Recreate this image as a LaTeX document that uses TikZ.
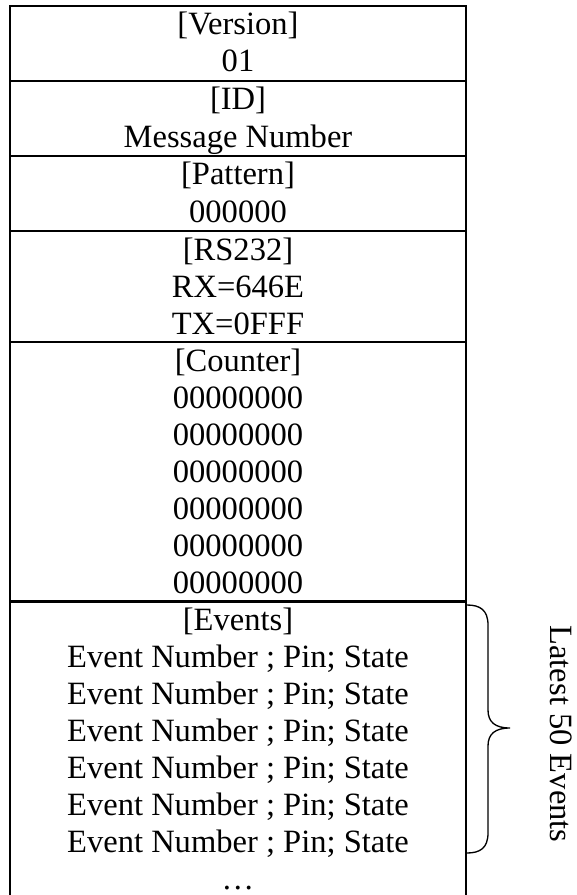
\documentclass[tikz,border=0pt]{standalone}
\usepackage{fontspec}
\setmainfont{Liberation Serif}
\begin{document}
\begin{tikzpicture}[x=0.75pt,y=-0.75pt,
  cell/.style={anchor=base,inner sep=0pt,font=\fontsize{24.4}{28}\selectfont},
  rule/.style={line width=1.5pt},
  brace/.style={line width=1pt}]
\useasboundingbox (0,0) rectangle (577,895);
% table frame
\draw[rule] (10,895) -- (10,6) -- (466,6) -- (466,895);
\draw[rule] (10,81) -- (466,81);
\draw[rule] (10,156) -- (466,156);
\draw[rule] (10,231) -- (466,231);
\draw[rule] (10,342) -- (466,342);
\draw[line width=2.4pt] (10,601.5) -- (466,601.5);
% texts
\node[cell] (v1) at (238,35) {[Version]};
\node[cell] (v2) at (238,72) {01};
\node[cell] (i1) at (238,110) {[ID]};
\node[cell] (i2) at (238,147) {Message Number};
\node[cell] (p1) at (238,185) {[Pattern]};
\node[cell] (p2) at (238,222) {000000};
\node[cell] (r1) at (238,260) {[RS232]};
\node[cell] (r2) at (238,297) {RX=646E};
\node[cell] (r3) at (238,334) {TX=0FFF};
\node[cell] (c0) at (238,371) {[Counter]};
\foreach \k in {1,...,6}
  \node[cell] (c\k) at (238,371+37*\k) {00000000};
\node[cell] (e0) at (238,630) {[Events]};
\foreach \k in {1,...,6}
  \node[cell] (e\k) at (238,630+37*\k) {Event Number ; Pin; State};
\node[cell] (e7) at (238,889) {\dots};
% brace
\coordinate (bt) at (467,605);
\coordinate (bm) at (510,728);
\coordinate (bb) at (467,853);
\draw[brace] (bt) .. controls (480,605) and (488,610) .. (488,625)
  -- (488,710) .. controls (488,722) and (495,728) .. (bm)
  .. controls (495,728) and (488,734) .. (488,746)
  -- (488,833) .. controls (488,848) and (480,853) .. (bb);
\node[cell,anchor=center,rotate=-90] (lbl) at (561,734) {Latest 50 Events};
\end{tikzpicture}
\end{document}
